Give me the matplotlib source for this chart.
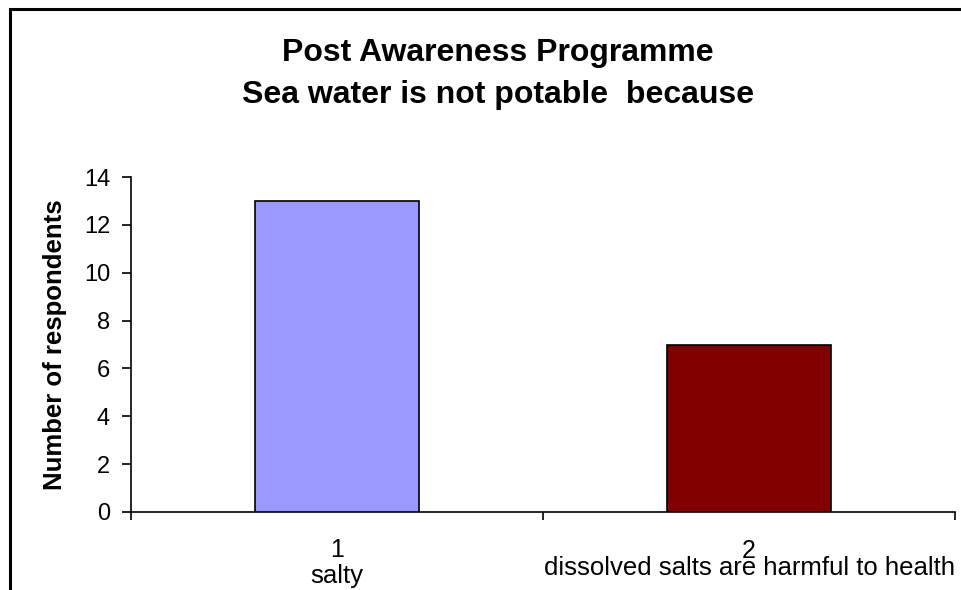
import matplotlib
matplotlib.use("Agg")
import matplotlib.pyplot as plt
from matplotlib.patches import Rectangle
from matplotlib.transforms import blended_transform_factory

plt.rcParams['font.family'] = ['Liberation Sans', 'DejaVu Sans']

categories = ["1", "2"]
descriptions = ["salty", "dissolved salts are harmful to health"]
values = [13, 7]
colors = ["#9999FF", "#800000"]
title_lines = ["Post Awareness Programme", "Sea water is not potable  because"]
ylabel = "Number of respondents"

fig = plt.figure(figsize=(9.61, 5.9), dpi=100)
fig.patch.set_facecolor("white")
fig.patches.append(Rectangle((10/961, -0.2), 1.5, 1.2 - 9/590,
                             transform=fig.transFigure, fill=False,
                             edgecolor="black", linewidth=2.2))

ax = fig.add_axes([131/961, 1 - 512/590, (955 - 131)/961, (512 - 177)/590])
x = list(range(len(values)))
ax.bar(x, values, width=0.4, color=colors, edgecolor="black", linewidth=1.2, zorder=3)
ax.set_xlim(-0.5, len(values) - 0.5)
ax.set_ylim(0, 14)
ax.set_yticks(range(0, 15, 2))
ax.set_xticks([i - 0.5 for i in range(len(values) + 1)])
ax.set_xticklabels([])
for s in ["top", "right"]:
    ax.spines[s].set_visible(False)
for s in ["left", "bottom"]:
    ax.spines[s].set_linewidth(1.2)
ax.tick_params(axis="y", direction="out", length=6.5, width=1.2, labelsize=17, pad=8.6)
ax.tick_params(axis="x", direction="out", length=5.5, width=1.2)

ax.set_ylabel(ylabel, fontsize=18.5, fontweight="bold")
ax.yaxis.set_label_coords((67 - 131) / 824, 0.5)

trans = blended_transform_factory(ax.transData, fig.transFigure)
top_base = [557, 558]
bottom_base = [583, 575]
for i, (c, d) in enumerate(zip(categories, descriptions)):
    ax.text(i, 1 - top_base[i]/590, c, transform=trans, ha="center", va="baseline", fontsize=18)
    ax.text(i, 1 - bottom_base[i]/590, d, transform=trans, ha="center", va="baseline", fontsize=18.5)

title_x = 498 / 961
for line, base in zip(title_lines, [61, 103]):
    fig.text(title_x, 1 - base/590, line, ha="center", va="baseline",
             fontsize=23, fontweight="bold")

fig.savefig("out.png", dpi=100)
